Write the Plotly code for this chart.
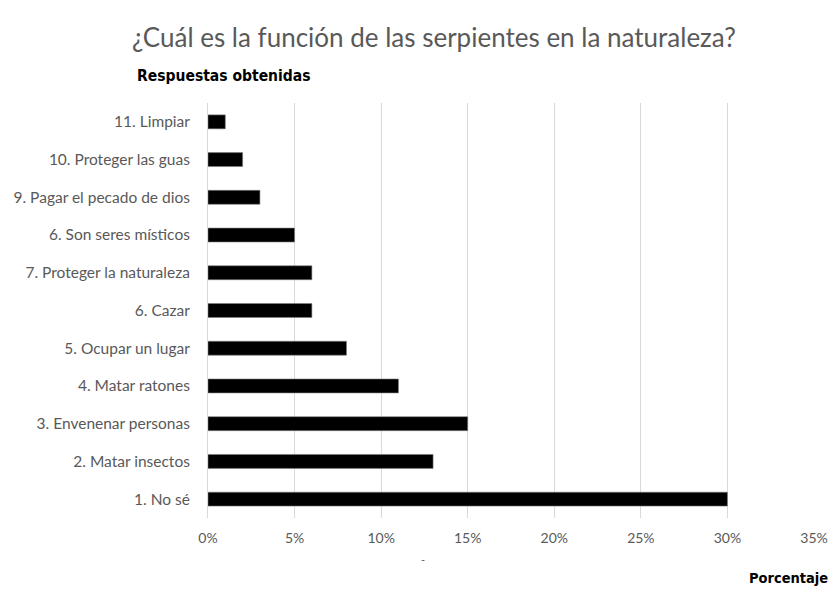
import plotly.graph_objects as go

# Respuestas (de abajo hacia arriba, como en el gráfico)
categorias = [
    "1. No sé",
    "2. Matar insectos",
    "3. Envenenar personas",
    "4. Matar ratones",
    "5. Ocupar un lugar",
    "6. Cazar",
    "7. Proteger la naturaleza",
    "6. Son seres místicos",
    "9. Pagar el pecado de dios",
    "10. Proteger las guas",
    "11. Limpiar",
]
porcentajes = [0.30, 0.13, 0.15, 0.11, 0.08, 0.06, 0.06, 0.05, 0.03, 0.02, 0.01]
ticks_x = [0, 0.05, 0.10, 0.15, 0.20, 0.25, 0.30, 0.35]
ticks_x_text = ["0%", "5%", "10%", "15%", "20%", "25%", "30%", "35%"]

FONT = "Lato, 'Open Sans', sans-serif"
FONT_NEGRITA = "'Liberation Sans Narrow', 'DejaVu Sans Condensed', sans-serif"
GRIS = "#595959"

fig = go.Figure(
    go.Bar(
        x=porcentajes,
        y=categorias,
        orientation="h",
        marker=dict(color="#000000", line=dict(color="#7f7f7f", width=0.6)),
        width=0.37,
        hovertemplate="%{y}: %{x:.0%}<extra></extra>",
    )
)

fig.update_layout(
    width=829,
    height=590,
    paper_bgcolor="white",
    plot_bgcolor="white",
    margin=dict(l=208, r=15, t=103, b=72, autoexpand=False),
    showlegend=False,
    font=dict(family=FONT, color=GRIS, size=14),
    title=dict(
        text="¿Cuál es la función de las serpientes en la naturaleza?",
        x=0.5235,
        xanchor="center",
        y=0.936,
        yanchor="middle",
        font=dict(family=FONT, size=26, color=GRIS),
    ),
    xaxis=dict(
        range=[0, 0.35],
        tickvals=ticks_x,
        ticktext=ticks_x_text,
        showgrid=True,
        gridcolor="#d9d9d9",
        gridwidth=1,
        zeroline=False,
        showline=False,
        ticks="",
        ticklabelstandoff=10,
        tickfont=dict(size=14, color=GRIS),
        automargin=False,
        fixedrange=True,
    ),
    yaxis=dict(
        categoryorder="array",
        categoryarray=categorias,
        range=[-0.5, len(categorias) - 0.5],
        showgrid=False,
        zeroline=False,
        showline=True,
        linecolor="#d9d9d9",
        linewidth=1,
        ticks="",
        ticklabelstandoff=14,
        tickfont=dict(size=15.5, color=GRIS),
        automargin=False,
        fixedrange=True,
    ),
    annotations=[
        dict(
            text="<b>Respuestas obtenidas</b>",
            xref="paper", yref="paper",
            x=(135 - 208) / 606, y=1 + 27 / 415,
            xanchor="left", yanchor="middle",
            showarrow=False,
            font=dict(family=FONT_NEGRITA, size=15.5, color="#000000"),
        ),
        dict(
            text="<b>Porcentaje</b>",
            xref="paper", yref="paper",
            x=(830 - 208) / 606, y=-60 / 415,
            xanchor="right", yanchor="middle",
            showarrow=False,
            font=dict(family=FONT_NEGRITA, size=14.5, color="#000000"),
        ),
        dict(
            text="-",
            xref="x", yref="paper",
            x=0.124, y=-50 / 415,
            showarrow=False,
            font=dict(family=FONT, size=11, color=GRIS),
        ),
    ],
)

# drop the default 8px body margin so the 829x590 figure fills the window
fig.write_html(
    "out.html",
    config={"displayModeBar": False},
    post_script="document.body.style.margin = '0';",
)
